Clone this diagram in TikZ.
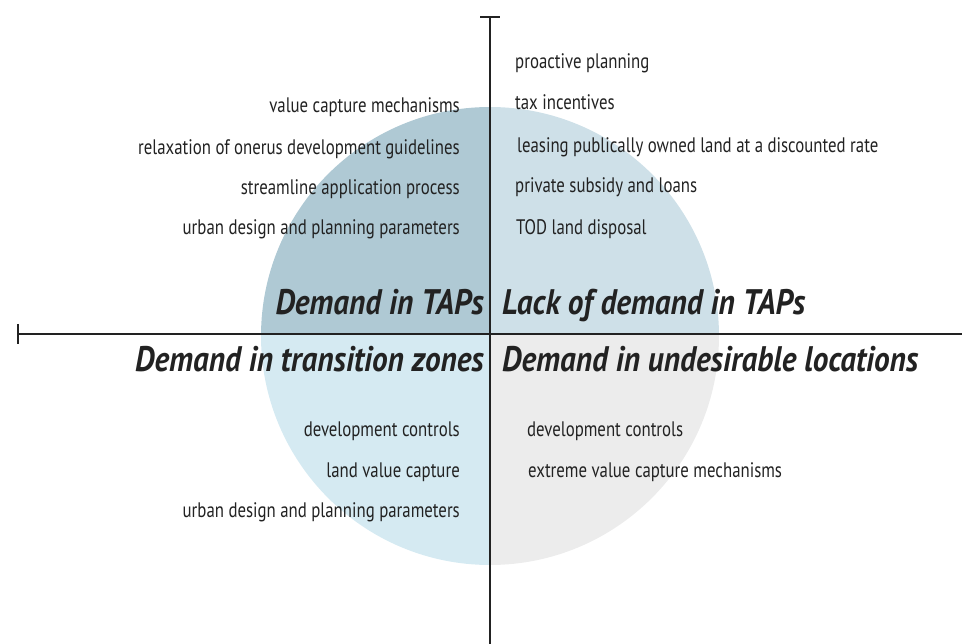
\documentclass[tikz,border=0pt]{standalone}
\usepackage{fontspec}
\setmainfont{PT Sans}[FakeStretch=0.8]
\newfontfamily\ttlfont{PT Sans}[FakeStretch=0.88]
\definecolor{qtl}{HTML}{AFC9D4}
\definecolor{qtr}{HTML}{CEE0E8}
\definecolor{qbl}{HTML}{D5EAF2}
\definecolor{qbr}{HTML}{ECECEC}
\definecolor{ink}{HTML}{222222}
\begin{document}
\begin{tikzpicture}[x=1pt,y=-1pt,
  item/.style={inner sep=0pt,text=ink,font=\fontsize{21}{23}\selectfont},
  ttl/.style={inner sep=0pt,text=ink,font=\ttlfont\fontsize{35.5}{38}\selectfont\bfseries\itshape},
  axis/.style={draw=ink,line width=1.1pt},
  tick/.style={draw=ink,line width=2.6pt}]
\useasboundingbox (0,0) rectangle (962,644);
\coordinate (c) at (490,336);
\begin{scope}\clip (0,0) rectangle (490,334); \fill[qtl] (c) circle[radius=229pt]; \end{scope}
\begin{scope}\clip (490,0) rectangle (962,334); \fill[qtr] (c) circle[radius=229pt]; \end{scope}
\begin{scope}\clip (0,334) rectangle (490,644); \fill[qbl] (c) circle[radius=229pt]; \end{scope}
\begin{scope}\clip (490,334) rectangle (962,644); \fill[qbr] (c) circle[radius=229pt]; \end{scope}
% axes
\coordinate (vt) at (490,17);
\coordinate (vb) at (490,644);
\coordinate (hl) at (18,334);
\coordinate (hr) at (962,334);
\draw[axis] (vt) -- (vb);
\draw[axis] (hl) -- (hr);
\draw[tick] (480,17) -- (500,17);
\draw[tick] (18,324) -- (18,344);
% titles
\node[ttl,anchor=base east] (t1) at (484,315) {Demand in TAPs};
\node[ttl,anchor=base west] (t2) at (502,315) {Lack of demand in TAPs};
\node[ttl,anchor=base east] (t3) at (484,372) {Demand in transition zones};
\node[ttl,anchor=base west] (t4) at (502,372) {Demand in undesirable locations};
% upper left
\node[item,anchor=base east] (a1) at (460,113) {value capture mechanisms};
\node[item,anchor=base east] (a2) at (460,155) {relaxation of onerus development guidelines};
\node[item,anchor=base east] (a3) at (460,195) {streamline application process};
\node[item,anchor=base east] (a4) at (460,235) {urban design and planning parameters};
% upper right
\node[item,anchor=base west] (b1) at (515,69) {proactive planning};
\node[item,anchor=base west] (b2) at (515,110) {tax incentives};
\node[item,anchor=base west] (b3) at (517,153) {leasing publically owned land at a discounted rate};
\node[item,anchor=base west] (b4) at (515,193) {private subsidy and loans};
\node[item,anchor=base west] (b5) at (516,235) {TOD land disposal};
% lower left
\node[item,anchor=base east] (c1) at (460,437) {development controls};
\node[item,anchor=base east] (c2) at (460,477) {land value capture};
\node[item,anchor=base east] (c3) at (460,517) {urban design and planning parameters};
% lower right
\node[item,anchor=base west] (d1) at (527,437) {development controls};
\node[item,anchor=base west] (d2) at (528,477) {extreme value capture mechanisms};
\end{tikzpicture}
\end{document}
